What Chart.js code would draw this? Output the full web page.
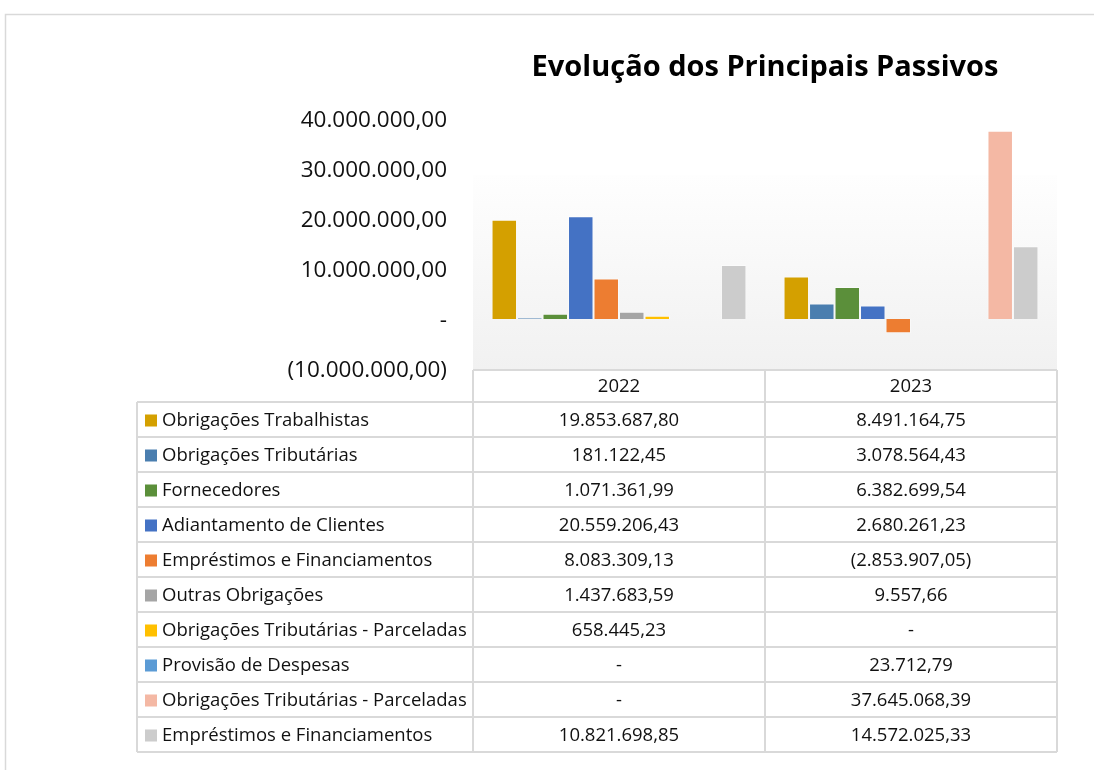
<!DOCTYPE html>
<html lang="pt-BR">
<head>
<meta charset="utf-8">
<title>Evolução dos Principais Passivos</title>
<script src="https://cdn.jsdelivr.net/npm/chart.js@4.4.1/dist/chart.umd.min.js"></script>
<style>
    html, body { margin: 0; padding: 0; background: #fff; }
    #wrap { width: 1094px; height: 770px; }
</style>
</head>
<body>
<div id="wrap"><canvas id="passivosChart" width="1094" height="770"></canvas></div>
<script>
const years = ["2022", "2023"];
const seriesNames = [
    "Obrigações Trabalhistas",
    "Obrigações Tributárias",
    "Fornecedores",
    "Adiantamento de Clientes",
    "Empréstimos e Financiamentos",
    "Outras Obrigações",
    "Obrigações Tributárias - Parceladas",
    "Provisão de Despesas",
    "Obrigações Tributárias - Parceladas",
    "Empréstimos e Financiamentos"
];
const obrigacoesTrabalhistas = [19853687.80, 8491164.75];
const obrigacoesTributarias = [181122.45, 3078564.43];
const fornecedores = [1071361.99, 6382699.54];
const adiantamentoClientes = [20559206.43, 2680261.23];
const emprestimos = [8083309.13, -2853907.05];
const outrasObrigacoes = [1437683.59, 9557.66];
const obrigTribParceladas = [658445.23, 0];
const provisaoDespesas = [0, 23712.79];
const obrigTribParceladas2 = [0, 37645068.39];
const emprestimos2 = [10821698.85, 14572025.33];
const yTicks = [-10000000, 0, 10000000, 20000000, 30000000, 40000000];

const seriesValues = [
    obrigacoesTrabalhistas, obrigacoesTributarias, fornecedores, adiantamentoClientes,
    emprestimos, outrasObrigacoes, obrigTribParceladas, provisaoDespesas,
    obrigTribParceladas2, emprestimos2
];
const seriesColors = [
    "#d4a000", "#4a7eaf", "#5b8f3a", "#4472c4", "#ed7d31",
    "#a5a5a5", "#ffc000", "#5b9bd5", "#f4b8a4", "#cccccc"
];

const FONT = "'Open Sans', 'Noto Sans', sans-serif";

function fmtBR(v) {
    if (!v) return "-";
    const parts = Math.abs(v).toFixed(2).split(".");
    const s = parts[0].replace(/\B(?=(\d{3})+(?!\d))/g, ".") + "," + parts[1];
    return v < 0 ? "(" + s + ")" : s;
}

const frameAndTable = {
    id: "frameAndTable",
    beforeDraw(chart) {
        const ctx = chart.ctx;
        const area = chart.chartArea;
        ctx.save();
        ctx.fillStyle = "#fff";
        ctx.fillRect(0, 0, chart.width, chart.height);
        ctx.strokeStyle = "#d9d9d9";
        ctx.lineWidth = 1.5;
        ctx.beginPath();
        ctx.moveTo(5.5, chart.height + 2);
        ctx.lineTo(5.5, 14.5);
        ctx.lineTo(chart.width + 2, 14.5);
        ctx.stroke();
        // fundo da área de plotagem
        const top = 175;
        const g = ctx.createLinearGradient(0, top, 0, area.bottom);
        g.addColorStop(0, "#fefefe");
        g.addColorStop(1, "#f1f1f1");
        ctx.fillStyle = g;
        ctx.fillRect(area.left, top, area.right - area.left, area.bottom - top);
        ctx.restore();
    },
    afterDraw(chart) {
        const ctx = chart.ctx;
        const area = chart.chartArea;
        const x = chart.scales.x;
        const colW = (area.right - area.left) / years.length;
        const tableTop = 370;
        const headH = 32, rowH = 35;
        const labelLeft = 137;
        const rowsTop = tableTop + headH;
        const tableBottom = rowsTop + rowH * seriesNames.length;

        ctx.save();
        ctx.strokeStyle = "#d9d9d9";
        ctx.lineWidth = 2;
        ctx.beginPath();
        ctx.moveTo(area.left, tableTop);
        ctx.lineTo(area.right, tableTop);
        for (let c = 0; c <= years.length; c++) {
            const cx = area.left + c * colW;
            ctx.moveTo(cx, tableTop);
            ctx.lineTo(cx, tableBottom);
        }
        ctx.moveTo(labelLeft, rowsTop);
        ctx.lineTo(labelLeft, tableBottom);
        for (let r = 0; r <= seriesNames.length; r++) {
            const ry = rowsTop + r * rowH;
            ctx.moveTo(labelLeft, ry);
            ctx.lineTo(area.right, ry);
        }
        ctx.stroke();

        ctx.fillStyle = "#111";
        ctx.font = "18.5px " + FONT;
        ctx.textBaseline = "middle";
        ctx.textAlign = "center";
        years.forEach((y, i) => {
            ctx.fillText(y, x.getPixelForValue(i), tableTop + headH / 2 + 1);
        });

        seriesNames.forEach((name, r) => {
            const cy = rowsTop + r * rowH + rowH / 2 + 1;
            ctx.fillStyle = seriesColors[r];
            ctx.fillRect(145, cy - 6, 12, 12);
            ctx.fillStyle = "#111";
            ctx.textAlign = "left";
            ctx.fillText(name, 162, cy);
            ctx.textAlign = "center";
            seriesValues[r].forEach((v, i) => {
                ctx.fillText(fmtBR(v), x.getPixelForValue(i), cy);
            });
        });
        ctx.restore();
    }
};

const datasets = seriesNames.map((name, i) => ({
    label: name,
    data: seriesValues[i],
    backgroundColor: seriesColors[i],
    borderColor: "rgba(255,255,255,0.45)",
    borderWidth: 1,
    categoryPercentage: 0.873,
    barPercentage: 1.0
}));

new Chart(document.getElementById("passivosChart").getContext("2d"), {
    type: "bar",
    data: { labels: years, datasets: datasets },
    plugins: [frameAndTable],
    options: {
        responsive: false,
        animation: false,
        layout: { padding: { top: 0, left: 0, right: 37, bottom: 401 } },
        plugins: {
            legend: { display: false },
            tooltip: { enabled: false },
            title: {
                display: true,
                fullSize: false,
                text: "Evolução dos Principais Passivos",
                color: "#000",
                font: { family: FONT, size: 29, weight: "bold" },
                padding: { top: 50, bottom: 34.2 }
            }
        },
        scales: {
            x: { display: false, offset: true },
            y: {
                min: yTicks[0],
                max: yTicks[yTicks.length - 1],
                afterFit(scale) { scale.width = 473; },
                afterBuildTicks(scale) { scale.ticks = yTicks.map(v => ({ value: v })); },
                grid: { display: false, drawTicks: false },
                border: { display: false },
                ticks: {
                    padding: 26,
                    labelOffset: 2,
                    color: "#111",
                    font: { family: FONT, size: 22.5 },
                    callback: v => fmtBR(v)
                }
            }
        }
    }
});
</script>
</body>
</html>
